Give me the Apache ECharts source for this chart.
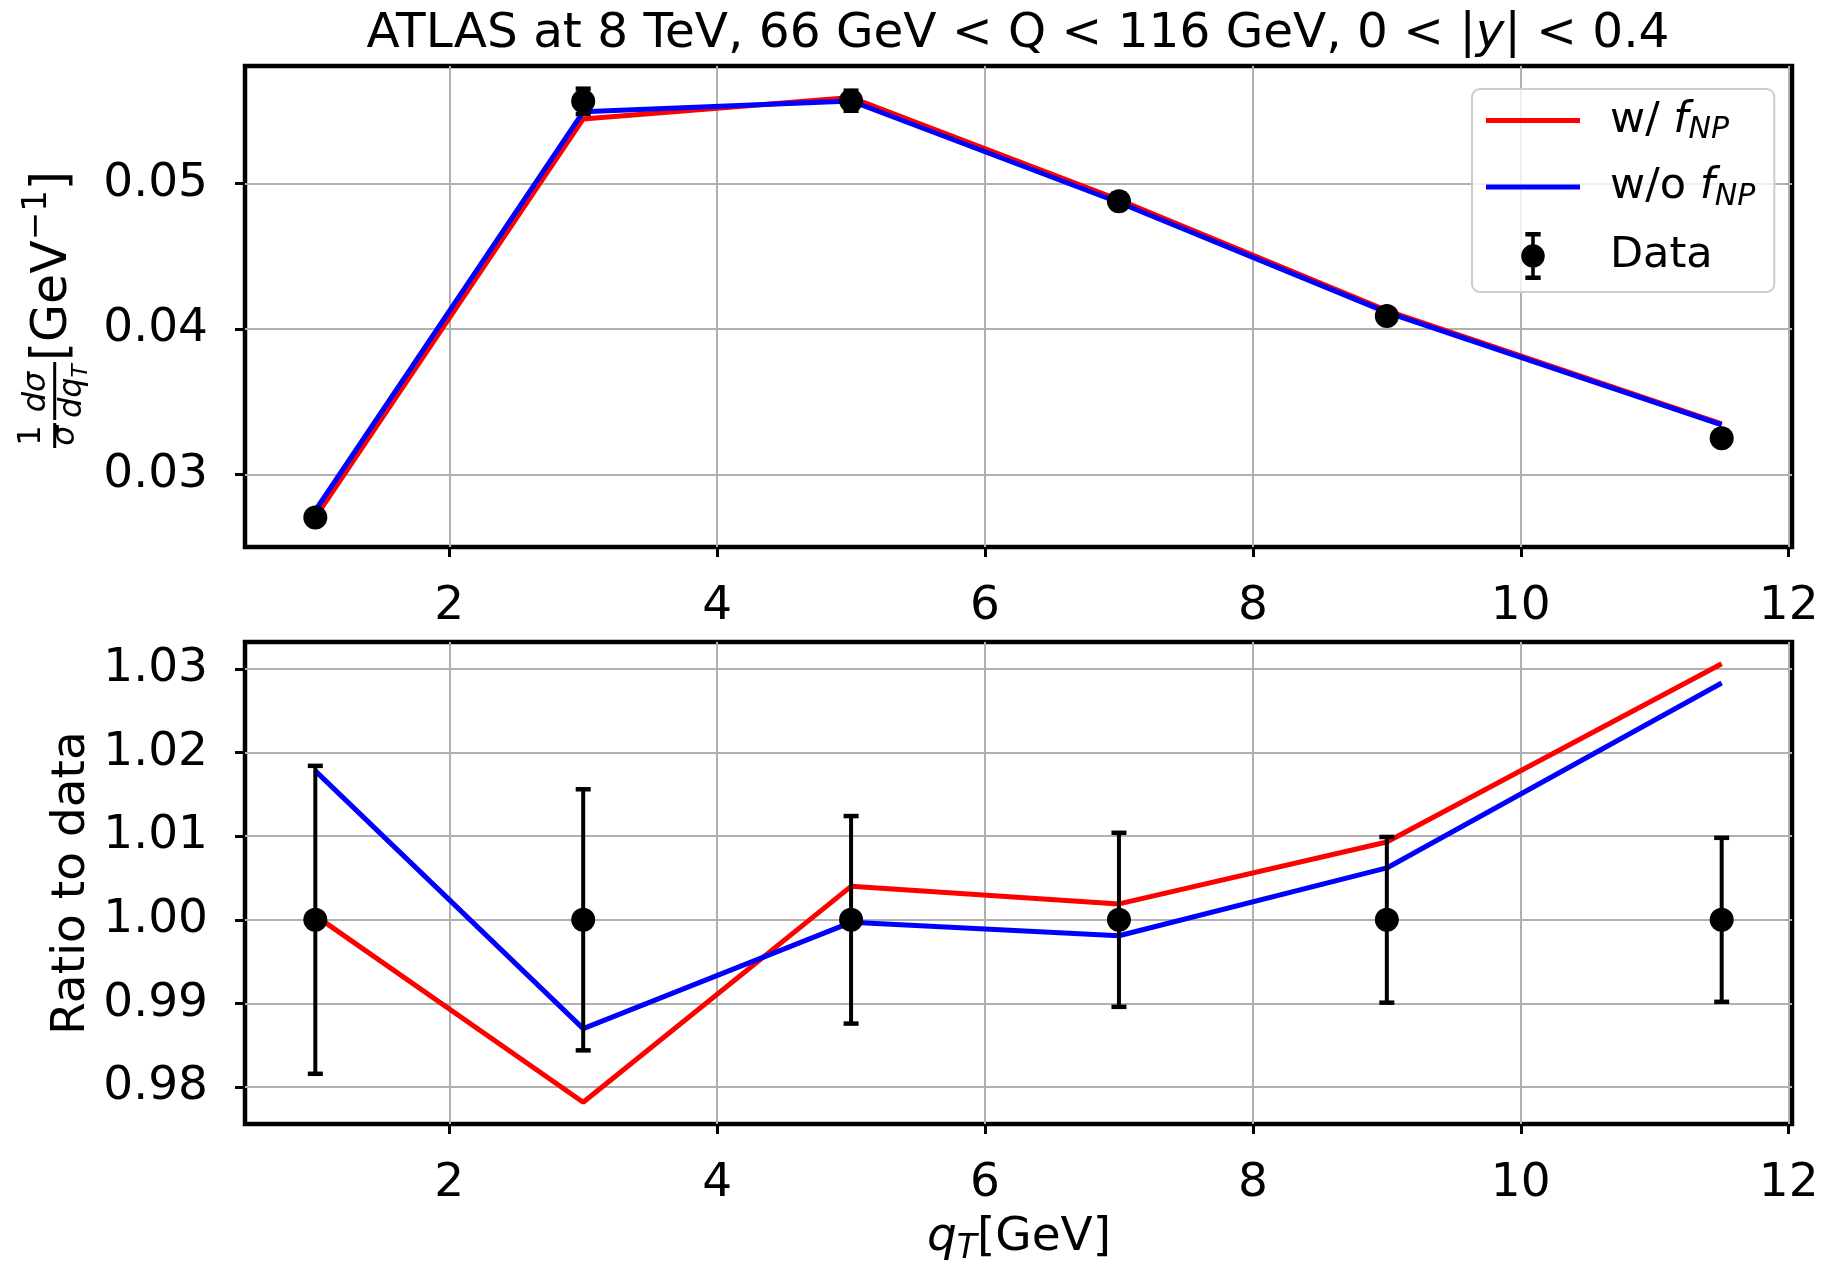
<!DOCTYPE html>
<html>
<head>
<meta charset="utf-8">
<script src="https://cdn.jsdelivr.net/npm/echarts@6/dist/echarts.min.js"></script>
<style>
  html, body { margin: 0; padding: 0; background: #ffffff; }
  #chart { width: 1828px; height: 1265px; }
</style>
</head>
<body>
<div id="chart"></div>
<script>
// ATLAS 8 TeV Z-boson qT spectrum, 66 < Q < 116 GeV, 0 < |y| < 0.4
const qT = [1, 3, 5, 7, 9, 11.5];
// normalised cross section (1/sigma dsigma/dqT) in GeV^-1
const dataXsec = [0.02703, 0.05567, 0.05571, 0.04880, 0.04089, 0.03248];
// relative data uncertainty
const dataRelErr = [0.0184, 0.0156, 0.0124, 0.0104, 0.0099, 0.0098];
// theory / data
const ratioWithNP = [1.0005, 0.9782, 1.0040, 1.0019, 1.0093, 1.0306];
const ratioWithoutNP = [1.0178, 0.9870, 0.9997, 0.9981, 1.0062, 1.0283];

const xTicks = [2, 4, 6, 8, 10, 12];
const xsecTicks = [0.03, 0.04, 0.05];
const ratioTicks = [0.98, 0.99, 1.00, 1.01, 1.02, 1.03];

const FONT = 'DejaVu Sans';
const NAME_NP = 'w/ fNP';
const NAME_NONP = 'w/o fNP';
const NAME_DATA = 'Data';

const legendLabels = {};
legendLabels[NAME_NP] = 'w/ {i|f}{s|NP}';
legendLabels[NAME_NONP] = 'w/o {i|f}{s|NP}';
legendLabels[NAME_DATA] = 'Data';

// legend glyphs: a plain line segment, and an error bar with its marker
const LINE_ICON = 'path://M0,0H94V5H0Z';
const ERRBAR_ICON = 'path://M4,0H19V4.5H13.25V42.5H19V47H4V42.5H9.75V4.5H4Z' +
  'M23,23.5A11.5,11.5,0,1,1,0,23.5A11.5,11.5,0,1,1,23,23.5Z';

function errorBarItem(params, api) {
  const x = api.value(0);
  const top = api.coord([x, api.value(2)]);
  const bot = api.coord([x, api.value(1)]);
  const cap = 7.5;
  const stem = { stroke: '#000', lineWidth: 4 };
  const capStyle = { stroke: '#000', lineWidth: 4.5 };
  return {
    type: 'group',
    children: [
      { type: 'line', shape: { x1: top[0], y1: top[1], x2: bot[0], y2: bot[1] }, style: stem },
      { type: 'line', shape: { x1: top[0] - cap, y1: top[1], x2: top[0] + cap, y2: top[1] }, style: capStyle },
      { type: 'line', shape: { x1: bot[0] - cap, y1: bot[1], x2: bot[0] + cap, y2: bot[1] }, style: capStyle }
    ]
  };
}

const topXsecNP = qT.map((x, i) => [x, ratioWithNP[i] * dataXsec[i]]);
const topXsecNoNP = qT.map((x, i) => [x, ratioWithoutNP[i] * dataXsec[i]]);
const topData = qT.map((x, i) => [x, dataXsec[i]]);
const topErr = qT.map((x, i) => [x, dataXsec[i] * (1 - dataRelErr[i]), dataXsec[i] * (1 + dataRelErr[i])]);
const botNP = qT.map((x, i) => [x, ratioWithNP[i]]);
const botNoNP = qT.map((x, i) => [x, ratioWithoutNP[i]]);
const botData = qT.map(x => [x, 1]);
const botErr = qT.map((x, i) => [x, 1 - dataRelErr[i], 1 + dataRelErr[i]]);

const tickLabel = { color: '#000', fontFamily: FONT, fontSize: 47 };

function xAxisCfg(gridIndex) {
  return {
    type: 'value', gridIndex: gridIndex, min: 0.475, max: 12.025,
    axisLine: { show: false },
    axisTick: { show: true, customValues: xTicks, length: 10, lineStyle: { color: '#000', width: 3 } },
    axisLabel: Object.assign({ customValues: xTicks, margin: 36, formatter: v => String(v) }, tickLabel),
    splitLine: { show: true, lineStyle: { color: '#b0b0b0', width: 2 } }
  };
}

function yAxisCfg(gridIndex, min, max, ticks) {
  return {
    type: 'value', gridIndex: gridIndex, min: min, max: max,
    axisLine: { show: false },
    axisTick: { show: true, customValues: ticks, length: 10, lineStyle: { color: '#000', width: 3 } },
    axisLabel: Object.assign({ customValues: ticks, margin: 37, formatter: v => v.toFixed(2) }, tickLabel),
    splitLine: { show: true, lineStyle: { color: '#b0b0b0', width: 2 } }
  };
}

function lineSeries(name, color, xi, data) {
  return {
    type: 'line', name: name, xAxisIndex: xi, yAxisIndex: xi, data: data,
    symbol: 'none', lineStyle: { color: color, width: 5 }, itemStyle: { color: color },
    z: 2, silent: true
  };
}

function dataMarkers(xi, data) {
  return {
    type: 'scatter', name: NAME_DATA, xAxisIndex: xi, yAxisIndex: xi, data: data,
    symbol: 'circle', symbolSize: 24, itemStyle: { color: '#000', opacity: 1 }, z: 4, silent: true
  };
}

function dataErrors(xi, data) {
  return {
    type: 'custom', name: NAME_DATA, xAxisIndex: xi, yAxisIndex: xi, data: data,
    renderItem: errorBarItem, encode: { x: 0, y: [1, 2] }, itemStyle: { color: '#000' }, z: 3, silent: true
  };
}

const chart = echarts.init(document.getElementById('chart'), null, { renderer: 'canvas' });

chart.setOption({
  animation: false,
  backgroundColor: '#ffffff',
  title: {
    text: 'ATLAS at 8 TeV, 66 GeV < Q < 116 GeV, 0 < |{i|y}| < 0.4',
    left: 1018, top: 10, textAlign: 'center', padding: 0,
    textStyle: {
      color: '#000', fontFamily: FONT, fontSize: 48.5, fontWeight: 'normal',
      rich: { i: { color: '#000', fontFamily: FONT, fontSize: 48.5, fontStyle: 'italic' } }
    }
  },
  grid: [
    { left: 245, right: 36, top: 66, height: 481, show: true, borderColor: '#000', borderWidth: 4.5, backgroundColor: 'transparent' },
    { left: 245, right: 36, top: 642, height: 482, show: true, borderColor: '#000', borderWidth: 4.5, backgroundColor: 'transparent' }
  ],
  xAxis: [xAxisCfg(0), xAxisCfg(1)],
  yAxis: [
    yAxisCfg(0, 0.0250, 0.0581, xsecTicks),
    yAxisCfg(1, 0.9756, 1.0332, ratioTicks)
  ],
  legend: {
    orient: 'vertical', left: 1472, top: 89,
    itemWidth: 94, itemHeight: 48, itemGap: 20,
    padding: [10, 19, 12, 14],
    backgroundColor: 'rgba(255,255,255,0.8)', borderColor: '#cccccc', borderWidth: 2, borderRadius: 8,
    selectedMode: false,
    data: [
      { name: NAME_NP, icon: LINE_ICON },
      { name: NAME_NONP, icon: LINE_ICON },
      { name: NAME_DATA, icon: ERRBAR_ICON, itemStyle: { color: '#000' } }
    ],
    formatter: name => legendLabels[name],
    textStyle: {
      color: '#000', fontFamily: FONT, fontSize: 43, padding: [0, 0, 0, 25],
      rich: {
        i: { color: '#000', fontFamily: FONT, fontSize: 43, fontStyle: 'italic' },
        s: { color: '#000', fontFamily: FONT, fontSize: 30, fontStyle: 'italic', padding: [20, 0, 0, 0] }
      }
    }
  },
  graphic: [
    {
      // 1/sigma dsigma/dqT [GeV^-1], reading bottom to top; local x runs along the label
      type: 'group', x: 70, y: 448, rotation: Math.PI / 2,
      children: [
        { type: 'text', x: 12.5, y: -38, style: { text: '1', fill: '#000', fontFamily: FONT, fontSize: 32, align: 'center', verticalAlign: 'middle' } },
        { type: 'line', shape: { x1: 0, y1: -15.3, x2: 25, y2: -15.3 }, style: { stroke: '#000', lineWidth: 3 } },
        { type: 'text', x: 12.5, y: -4, style: { text: 'σ', fill: '#000', fontFamily: FONT, fontSize: 32, fontStyle: 'italic', align: 'center', verticalAlign: 'middle' } },
        { type: 'text', x: 56, y: -33, style: { text: 'dσ', fill: '#000', fontFamily: FONT, fontSize: 32, fontStyle: 'italic', align: 'center', verticalAlign: 'middle' } },
        { type: 'line', shape: { x1: 28, y1: -15.3, x2: 86, y2: -15.3 }, style: { stroke: '#000', lineWidth: 3 } },
        {
          type: 'text', x: 57, y: 3,
          style: {
            text: '{a|dq}{s|T}', fill: '#000', align: 'center', verticalAlign: 'middle',
            rich: {
              a: { fill: '#000', fontFamily: FONT, fontSize: 32, fontStyle: 'italic' },
              s: { fill: '#000', fontFamily: FONT, fontSize: 22, fontStyle: 'italic', padding: [16, 0, 0, 0] }
            }
          }
        },
        {
          type: 'text', x: 87, y: -17,
          style: {
            text: '[GeV{sup|−1}]', fill: '#000', fontFamily: FONT, fontSize: 49, align: 'left', verticalAlign: 'middle',
            rich: { sup: { fill: '#000', fontFamily: FONT, fontSize: 34, padding: [0, 0, 32, 0] } }
          }
        }
      ]
    },
    {
      type: 'text', x: 72, y: 883, rotation: Math.PI / 2,
      style: { text: 'Ratio to data', fill: '#000', fontFamily: FONT, fontSize: 47, align: 'center', verticalAlign: 'middle' }
    },
    {
      type: 'text', x: 1019, y: 1238,
      style: {
        text: '{i|q}{s|T}[GeV]', fill: '#000', fontFamily: FONT, fontSize: 47, align: 'center', verticalAlign: 'middle',
        rich: {
          i: { fill: '#000', fontFamily: FONT, fontSize: 47, fontStyle: 'italic' },
          s: { fill: '#000', fontFamily: FONT, fontSize: 33, fontStyle: 'italic', padding: [22, 0, 0, 0] }
        }
      }
    }
  ],
  series: [
    lineSeries(NAME_NP, '#ff0000', 0, topXsecNP),
    lineSeries(NAME_NONP, '#0000ff', 0, topXsecNoNP),
    dataErrors(0, topErr),
    dataMarkers(0, topData),
    lineSeries(NAME_NP, '#ff0000', 1, botNP),
    lineSeries(NAME_NONP, '#0000ff', 1, botNoNP),
    dataErrors(1, botErr),
    dataMarkers(1, botData)
  ]
});
</script>
</body>
</html>
